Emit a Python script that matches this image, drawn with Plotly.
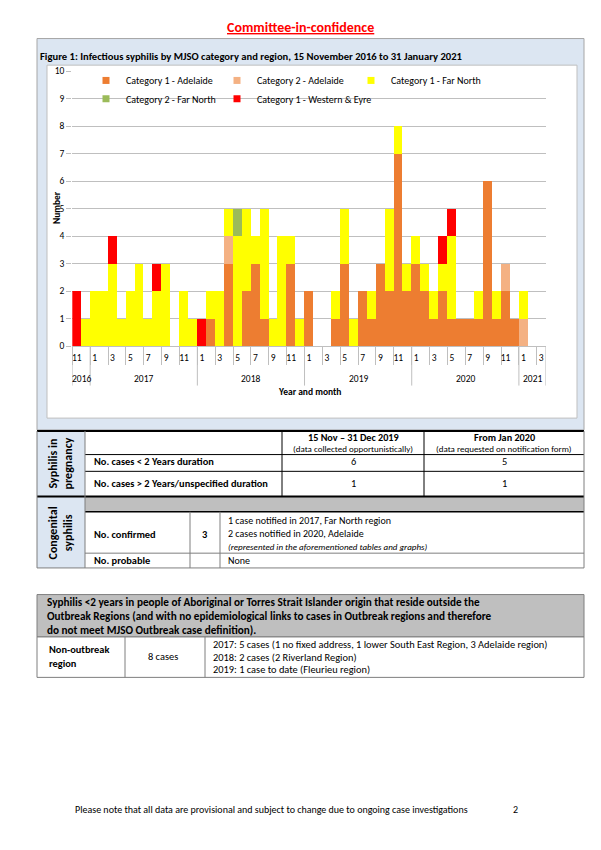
import plotly.graph_objects as go

W, H = 601, 850
FONT = "Carlito, Lato, sans-serif"

# ---------------- data ----------------
months = ["11", "12"] + [str(m) for m in range(1, 13)] * 4 + ["1", "2", "3"]
years = ["2016", "2017", "2018", "2019", "2020", "2021"]
year_counts = [2, 12, 12, 12, 12, 3]

cat1_adelaide = [0, 0, 0, 0, 0, 0, 0, 0, 0, 0, 0, 0, 0, 0,
                 0, 1, 0, 3, 0, 2, 3, 1, 0, 0, 3, 0,
                 2, 0, 0, 1, 3, 0, 2, 1, 3, 2, 7, 2,
                 3, 2, 1, 2, 1, 1, 1, 1, 6, 1, 2, 1,
                 0, 0, 0]
cat2_adelaide = [0, 0, 0, 0, 0, 0, 0, 0, 0, 0, 0, 0, 0, 0,
                 0, 0, 0, 1, 0, 0, 0, 0, 0, 0, 0, 0,
                 0, 0, 0, 0, 0, 0, 0, 0, 0, 0, 0, 0,
                 0, 0, 0, 0, 0, 0, 0, 0, 0, 0, 1, 0,
                 1, 0, 0]
cat1_far_north = [0, 1, 2, 2, 3, 1, 2, 3, 1, 2, 3, 0, 2, 1,
                  0, 1, 2, 1, 4, 3, 1, 4, 1, 4, 1, 1,
                  0, 0, 0, 1, 2, 1, 0, 1, 0, 3, 1, 1,
                  1, 1, 1, 1, 3, 0, 0, 1, 0, 1, 0, 0,
                  1, 0, 0]
cat2_far_north = [0, 0, 0, 0, 0, 0, 0, 0, 0, 0, 0, 0, 0, 0,
                  0, 0, 0, 0, 1, 0, 0, 0, 0, 0, 0, 0,
                  0, 0, 0, 0, 0, 0, 0, 0, 0, 0, 0, 0,
                  0, 0, 0, 0, 0, 0, 0, 0, 0, 0, 0, 0,
                  0, 0, 0]
cat1_western_eyre = [2, 0, 0, 0, 1, 0, 0, 0, 0, 1, 0, 0, 0, 0,
                     1, 0, 0, 0, 0, 0, 0, 0, 0, 0, 0, 0,
                     0, 0, 0, 0, 0, 0, 0, 0, 0, 0, 0, 0,
                     0, 0, 0, 1, 1, 0, 0, 0, 0, 0, 0, 0,
                     0, 0, 0]

series_names = ["Category 1 - Adelaide", "Category 2 - Adelaide", "Category 1 - Far North",
                "Category 2 - Far North", "Category 1 - Western & Eyre"]
series_values = [cat1_adelaide, cat2_adelaide, cat1_far_north, cat2_far_north, cat1_western_eyre]
series_colors = ["#ED7D31", "#F4B183", "#FFFF00", "#9BBB59", "#FF0000"]
series_legend = ["legend", "legend", "legend", "legend2", "legend2"]
series_legendwidth = [86, 89, 130, 86, 180]

# ---------------- helpers ----------------
def px(x):
    return x / W


def py(y):
    return 1 - y / H


shapes = []
annotations = []


def rect(x0, y0, x1, y1, fill="rgba(0,0,0,0)", line="rgba(0,0,0,0)", lw=0, layer="below"):
    shapes.append(dict(type="rect", xref="paper", yref="paper", x0=px(x0), x1=px(x1),
                       y0=py(y1), y1=py(y0), fillcolor=fill,
                       line=dict(color=line, width=lw), layer=layer))


def hline(x0, x1, y, color="black", lw=1):
    shapes.append(dict(type="line", xref="paper", yref="paper", x0=px(x0), x1=px(x1),
                       y0=py(y), y1=py(y), line=dict(color=color, width=lw), layer="above"))


def vline(x, y0, y1, color="black", lw=1):
    shapes.append(dict(type="line", xref="paper", yref="paper", x0=px(x), x1=px(x),
                       y0=py(y0), y1=py(y1), line=dict(color=color, width=lw), layer="above"))


def txt(x, y, s, size=9, anchor="left", color="black", angle=0, **fontkw):
    f = dict(size=size, color=color, family=FONT)
    f.update(fontkw)
    annotations.append(dict(x=px(x), y=py(y), xref="paper", yref="paper", text=s,
                            showarrow=False, xanchor=anchor, yanchor="middle",
                            font=f, textangle=angle, align="center" if anchor == "center" else "left"))


# ---------------- chart ----------------
idx = list(range(len(months)))
fig = go.Figure()
for name, vals, col in zip(series_names, series_values, series_colors):
    fig.add_trace(go.Bar(x=idx, y=vals, name=name, marker=dict(color=col, line=dict(width=0)),
                         showlegend=False, hoverinfo="skip"))
# legend keys (small square swatches like the original)
for name, col, lg, lw in zip(series_names, series_colors, series_legend, series_legendwidth):
    fig.add_trace(go.Scatter(x=[None], y=[None], mode="markers", name=name, legend=lg,
                             legendwidth=lw,
                             marker=dict(symbol="square", size=7, color=col), hoverinfo="skip"))

tickvals = [i for i, m in enumerate(months) if int(m) % 2 == 1]
ticktext = [months[i] for i in tickvals]

bounds = [-0.5]
for c in year_counts:
    bounds.append(bounds[-1] + c)
year_centers = [(bounds[i] + bounds[i + 1]) / 2 for i in range(len(years))]

# page title
txt(300.5, 22, "<b>Committee-in-confidence</b>", size=14, anchor="center", color="#FF0000",
    lineposition="under")

# figure frame
rect(37, 33, 584, 430, fill="#DCE6F2", line="#A6A6A6", lw=1)
rect(47, 60, 577, 418, fill="white", line="#BFBFBF", lw=1)
txt(38, 51, "<b>Figure 1: Infectious syphilis by MJSO category and region, 15 November 2016 to 31 January 2021</b>",
    size=10.6)

# axis decorations
for b in bounds:
    shapes.append(dict(type="line", xref="x", yref="paper", x0=b, x1=b, y0=py(345), y1=py(385),
                       line=dict(color="#BFBFBF", width=1), layer="above"))
for yr, c in zip(years, year_centers):
    annotations.append(dict(x=c, y=py(378), xref="x", yref="paper", text=yr, showarrow=False,
                            xanchor="center", yanchor="middle",
                            font=dict(size=9.5, color="black", family=FONT)))
txt(309, 392, "<b>Year and month</b>", size=9.5, anchor="center")
txt(57, 205, "<b>Number</b>", size=9.5, anchor="center", angle=-90)

# ---------------- table 1: syphilis in pregnancy / congenital ----------------
rect(37, 431, 85, 570, fill="#DCE6F2")
rect(85, 498, 584, 513, fill="#BFBFBF")
hline(37, 584, 431, lw=2)
hline(85, 584, 455, lw=1)
hline(85, 584, 472, lw=1)
hline(37, 584, 497.5, lw=2)
hline(85, 584, 513, lw=1.5)
hline(85, 584, 555, color="#7F7F7F", lw=1)
hline(37, 584, 570, color="#7F7F7F", lw=1)
vline(37, 431, 570, color="#7F7F7F")
vline(584, 431, 570, color="#7F7F7F")
vline(85, 431, 570, color="#7F7F7F")
vline(282, 431, 497)
vline(424, 431, 497)
vline(190, 513, 570, color="#7F7F7F")
vline(220, 513, 570, color="#7F7F7F")

txt(353, 438, "<b>15 Nov – 31 Dec 2019</b>", size=10.2, anchor="center")
txt(353, 449, "(data collected opportunistically)", size=9, anchor="center")
txt(504, 438, "<b>From Jan 2020</b>", size=10.2, anchor="center")
txt(504, 449, "(data requested on notification form)", size=9, anchor="center")
txt(92, 462, "<b>No. cases < 2 Years duration</b>", size=10.4)
txt(353, 462, "6", size=10.4, anchor="center")
txt(504, 462, "5", size=10.4, anchor="center")
txt(92, 484, "<b>No. cases > 2 Years/unspecified duration</b>", size=10.4)
txt(353, 484, "1", size=10.4, anchor="center")
txt(504, 484, "1", size=10.4, anchor="center")
txt(61, 464, "<b>Syphilis in<br>pregnancy</b>", size=12, anchor="center", angle=-90)

txt(92, 536, "<b>No. confirmed</b>", size=10.4)
txt(205, 536, "<b>3</b>", size=10.4, anchor="center")
txt(226, 522, "1 case notified in 2017, Far North region", size=10)
txt(226, 535, "2 cases notified in 2020, Adelaide", size=10)
txt(226, 548, "<i>(represented in the aforementioned tables and graphs)</i>", size=9)
txt(92, 562, "<b>No. probable</b>", size=10.4)
txt(226, 562, "None", size=10)
txt(61, 534, "<b>Congenital<br>syphilis</b>", size=12, anchor="center", angle=-90)

# ---------------- table 2: non-outbreak region ----------------
rect(37, 597, 584, 640, fill="#BFBFBF", line="#7F7F7F", lw=1)
rect(37, 640, 584, 681, fill="white", line="#7F7F7F", lw=1)
vline(125, 640, 681, color="#7F7F7F")
vline(205, 640, 681, color="#7F7F7F")
txt(45, 605, "<b>Syphilis <2 years in people of Aboriginal or Torres Strait Islander origin that reside outside the</b>", size=11.2)
txt(45, 619, "<b>Outbreak Regions (and with no epidemiological links to cases in Outbreak regions and therefore</b>", size=11.2)
txt(45, 633, "<b>do not meet MJSO Outbreak case definition).</b>", size=11.2)
txt(47, 660, "<b>Non-outbreak<br>region</b>", size=10.4)
txt(163, 660, "8 cases", size=10.4, anchor="center")
txt(211, 648, "2017: 5 cases (1 no fixed address, 1 lower South East Region, 3 Adelaide region)", size=10.4)
txt(211, 661, "2018: 2 cases (2 Riverland Region)", size=10.4)
txt(211, 673, "2019: 1 case to date (Fleurieu region)", size=10.4)

# footer
txt(73, 815, "Please note that all data are provisional and subject to change due to ongoing case investigations", size=10)
txt(511, 815, "2", size=10)

legend_common = dict(orientation="h", xanchor="left", yanchor="middle",
                     entrywidthmode="pixels", bgcolor="rgba(0,0,0,0)",
                     font=dict(size=10, family=FONT), itemclick=False, itemdoubleclick=False,
                     traceorder="normal", itemwidth=30)

fig.update_layout(
    width=W, height=H, autosize=False,
    margin=dict(l=0, r=0, t=0, b=0),
    paper_bgcolor="white", plot_bgcolor="white",
    barmode="stack", bargap=0,
    font=dict(family=FONT, size=9.5, color="black"),
    shapes=shapes, annotations=annotations,
    showlegend=True,
    legend=dict(x=px(86), y=py(75.5), **legend_common),
    legend2=dict(x=px(86), y=py(94), **legend_common),
    xaxis=dict(domain=[px(72.3), px(545.7)], range=[-0.5, 52.5], tickmode="array",
               tickvals=tickvals, ticktext=ticktext, ticks="", showgrid=False,
               zeroline=False, showline=True, linecolor="#BFBFBF", linewidth=1,
               tickfont=dict(size=9.5, family=FONT), ticklabelstandoff=2,
               minor=dict(tickmode="array", tickvals=[-0.5 + 2 * k for k in range(27)],
                          ticks="outside", ticklen=18, tickcolor="#BFBFBF", showgrid=False),
               fixedrange=True),
    yaxis=dict(domain=[py(345), py(66)], range=[0, 10], dtick=1, tick0=0,
               showgrid=True, gridcolor="#BFBFBF", gridwidth=1, zeroline=False,
               showline=False, ticks="outside", ticklen=5, tickcolor="#BFBFBF",
               tickfont=dict(size=9.5, family=FONT), fixedrange=True),
)

fig.write_html("out.html", config={"displayModeBar": False},
               post_script="document.body.style.margin='0';")
